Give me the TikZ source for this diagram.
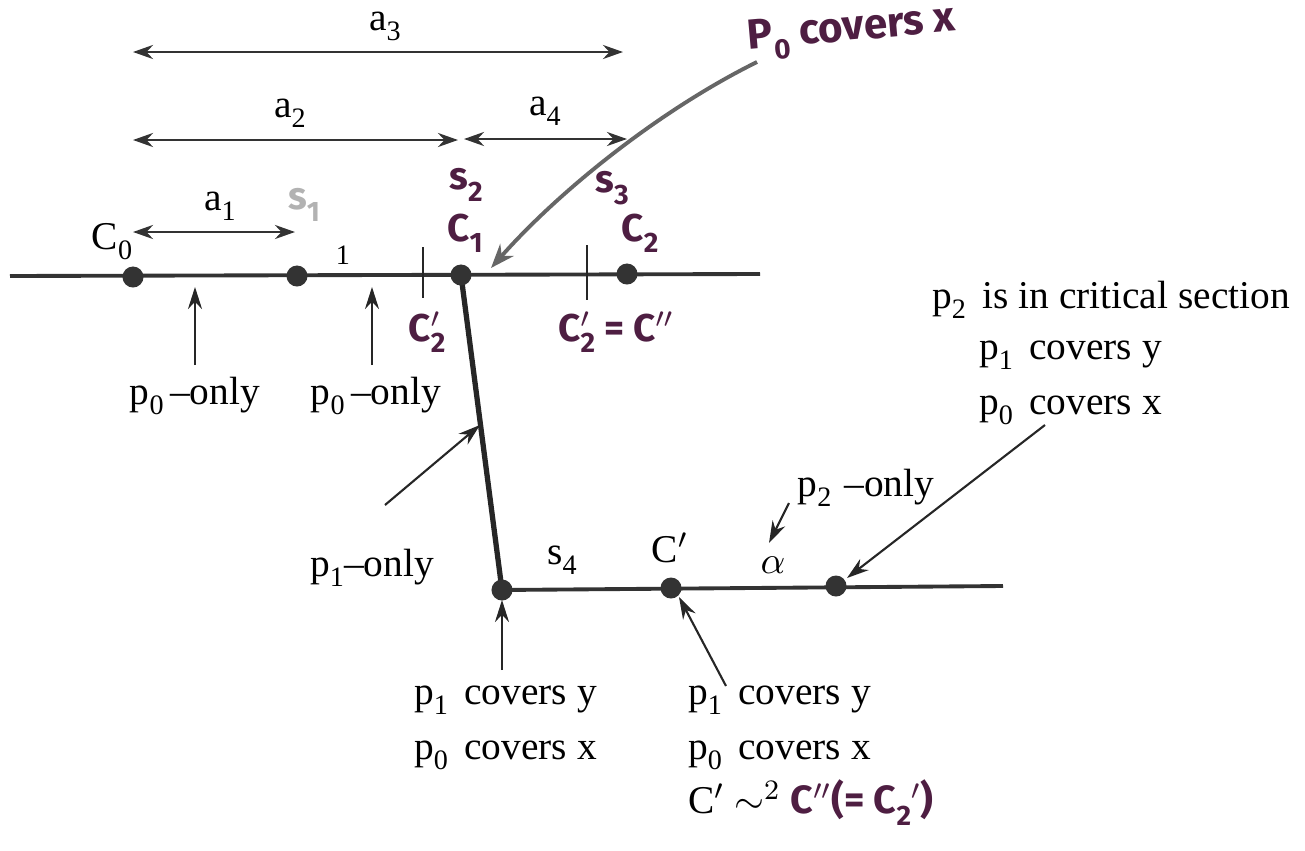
\documentclass[tikz,border=0pt]{standalone}
\usepackage{fontspec}
\setmainfont{Liberation Serif}
\setsansfont{Fira Sans}
\usetikzlibrary{arrows.meta}
\newcommand{\lowsub}[1]{\raisebox{-0.55ex}{\footnotesize #1}}
\definecolor{inkpurple}{RGB}{78,30,66}
\tikzset{
  track/.style={line width=1.1pt, draw=black!80},
  slant/.style={line width=1.5pt, draw=black!85},
  stop/.style={circle, fill=black!80, inner sep=0pt, minimum size=2.1mm},
  span/.style={line width=0.8pt, draw=black!80, {Stealth[length=2mm,width=1.4mm]}-{Stealth[length=2mm,width=1.4mm]}},
  pointer/.style={line width=0.6pt, draw=black!85, -{Stealth[length=2.2mm,width=1.4mm]}},
  leader/.style={line width=1.1pt, draw=black!60, -{Stealth[length=2.4mm,width=1.8mm]}},
  tick/.style={line width=0.7pt, draw=black!85},
  printed/.style={font=\fontsize{11.2}{15.5}\selectfont, inner sep=1pt},
  inked/.style={font=\sffamily\bfseries\fontsize{11}{13}\selectfont, text=inkpurple, inner sep=1pt},
}

\begin{document}
\begin{tikzpicture}[x=0.01cm, y=-0.01cm]
\useasboundingbox (0,0) rectangle (1305,851);
% points on the two lines
\coordinate (west) at (10,276);
\coordinate (east) at (760,274);
\coordinate (pc0) at (133,277);
\coordinate (ps1) at (297,276);
\coordinate (pc1) at (461,275);
\coordinate (pc2) at (627,274);
\coordinate (py0) at (502,590);
\coordinate (pcp) at (671,588);
\coordinate (pal) at (836,586);
\coordinate (lowend) at (1003,586);
\draw[track] (west) -- (east);
\draw[track] (py0) -- (lowend);
\draw[slant] (pc1) -- (py0);
\node[stop] (c0) at (pc0) {};
\node[stop] (s1) at (ps1) {};
\node[stop] (c1) at (pc1) {};
\node[stop] (c2) at (pc2) {};
\node[stop] (y0) at (py0) {};
\node[stop] (cp) at (pcp) {};
\node[stop] (al) at (pal) {};
% spans above the line
\coordinate (a3l) at (133,52);  \coordinate (a3r) at (623,52);
\coordinate (a2l) at (133,140); \coordinate (a2r) at (458,140);
\coordinate (a4l) at (464,139); \coordinate (a4r) at (627,139);
\coordinate (a1l) at (133,232); \coordinate (a1r) at (295,232);
\draw[span] (a3l) -- (a3r);
\draw[span] (a2l) -- (a2r);
\draw[span] (a4l) -- (a4r);
\draw[span] (a1l) -- (a1r);
\node[printed] (la3) at (385,26) {a\lowsub{3}};
\node[printed] (la2) at (290,113) {a\lowsub{2}};
\node[printed] (la4) at (545,111) {a\lowsub{4}};
\node[printed] (la1) at (220,206) {a\lowsub{1}};
% printed labels on the upper line
\node[printed] (lc0) at (112,242) {C\lowsub{0}};
\node[printed, font=\fontsize{8}{9}\selectfont] (lone) at (343,255) {1};
\coordinate (t1a) at (423,247); \coordinate (t1b) at (423,298);
\coordinate (t2a) at (587,245); \coordinate (t2b) at (587,300);
\draw[tick] (t1a) -- (t1b);
\draw[tick] (t2a) -- (t2b);
% handwritten labels
\node[inked, text=black!30] (ls1) at (304,205) {s\lowsub{1}};
\node[inked] (ls2) at (466,185) {s\lowsub{2}};
\node[inked] (ls3) at (612,188) {s\lowsub{3}};
\node[inked] (lc1) at (465,233) {C\lowsub{1}};
\node[inked] (lc2) at (640,233) {C\lowsub{2}};
\node[inked] (lc2a) at (427,332) {C\rlap{$'$}\lowsub{2}};
\node[inked] (lc2b) at (616,332) {C\rlap{$'$}\lowsub{2} = C$''$};
\node[inked, font=\sffamily\bfseries\fontsize{12}{14}\selectfont, rotate=5] (pnote) at (852,32) {P\lowsub{0} covers x};
\coordinate (pnoteend) at (757,62);
\coordinate (pnotetip) at (491,268);
\draw[leader] (pnoteend) .. controls (660,110) and (560,190) .. (pnotetip);
% labels below the upper line
\node[printed] (po1) at (195,396) {p\lowsub{0}\,--only};
\node[printed] (po2) at (376,396) {p\lowsub{0}\,--only};
\coordinate (po1tip) at (195,287);
\coordinate (po2tip) at (372,287);
\coordinate (po1tail) at (195,365);
\coordinate (po2tail) at (372,365);
\draw[pointer] (po1tail) -- (po1tip);
\draw[pointer] (po2tail) -- (po2tip);
\node[printed] (p1o) at (372,568) {p\lowsub{1}--only};
\coordinate (p1tail) at (385,505);
\coordinate (p1tip) at (480,425);
\draw[pointer] (p1tail) -- (p1tip);
% lower line labels
\node[printed] (ls4) at (562,560) {s\lowsub{4}};
\node[printed] (lcp) at (670,548) {C$'$};
\node[printed] (lal) at (773,565) {$\alpha$};
\node[printed] (p2o) at (866,488) {p\lowsub{2}\,\,--only};
\coordinate (p2tail) at (789,503);
\coordinate (p2tip) at (769,543);
\draw[pointer] (p2tail) -- (p2tip);
% notes under the lower line
\node[printed, align=left, anchor=north west] (ynote) at (410,682) {p\lowsub{1}\, covers y\\p\lowsub{0}\, covers x};
\coordinate (ytail) at (502,670);
\coordinate (ytip) at (502,600);
\draw[pointer] (ytail) -- (ytip);
\node[printed, align=left, anchor=north west] (cnote) at (684,682) {p\lowsub{1}\, covers y\\p\lowsub{0}\, covers x\\C$'$ $\sim^{2}$ \textcolor{inkpurple}{\sffamily\bfseries C$''$(= C\lowsub{2}$'$)}};
\coordinate (ctail) at (726,686);
\coordinate (ctip) at (679,597);
\draw[pointer] (ctail) -- (ctip);
% note on the right
\node[printed, anchor=west] (r1) at (928,300) {p\lowsub{2}\, is in critical section};
\node[printed, anchor=west] (r2) at (975,355) {p\lowsub{1}\, covers y};
\node[printed, anchor=west] (r3) at (975,410) {p\lowsub{0}\, covers x};
\coordinate (rtail) at (1045,425);
\coordinate (rtip) at (847,578);
\draw[pointer] (rtail) -- (rtip);
\end{tikzpicture}
\end{document}
